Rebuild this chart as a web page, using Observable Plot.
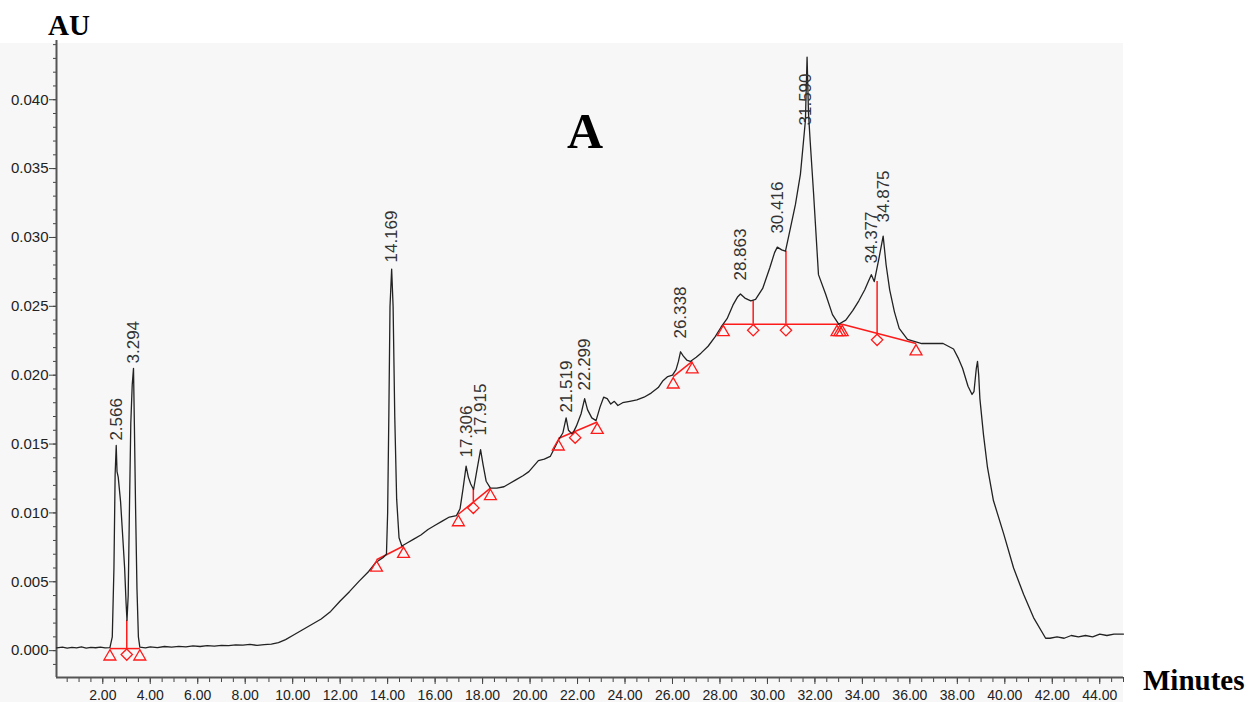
<!DOCTYPE html>
<html><head><meta charset="utf-8">
<script src="https://cdn.jsdelivr.net/npm/d3@7"></script>
<script src="https://cdn.jsdelivr.net/npm/@observablehq/plot@0.6"></script>
<style>
html,body{margin:0;padding:0;background:#fff;overflow:hidden;}
#chart{position:relative;width:1250px;height:702px;}
</style></head><body><div id="chart"></div>
<script>
// Chromatogram trace (minutes, AU)
const traceTime = [0.06,0.3,0.5,0.7,0.9,1.1,1.3,1.5,1.7,1.9,2.1,2.3,2.40,2.47,2.52,2.566,2.60,2.65,2.75,2.85,2.92,2.98,3.02,3.07,3.12,3.18,3.24,3.294,3.33,3.38,3.44,3.50,3.56,3.8,4.0,4.3,4.6,4.9,5.2,5.5,5.8,6.1,6.4,6.7,7.0,7.3,7.6,7.9,8.2,8.5,8.8,9.1,9.4,9.7,10.0,10.4,10.8,11.2,11.6,12.0,12.4,12.8,13.2,13.5,13.8,13.95,14.0,14.05,14.1,14.169,14.23,14.3,14.38,14.48,14.6,14.8,15.1,15.4,15.7,16.0,16.3,16.6,16.9,17.05,17.18,17.306,17.40,17.50,17.62,17.75,17.915,18.02,18.15,18.33,18.6,18.9,19.1,19.4,19.7,19.95,20.15,20.35,20.6,20.85,21.0,21.2,21.38,21.519,21.62,21.78,21.95,22.15,22.299,22.42,22.6,22.78,22.95,23.1,23.25,23.4,23.55,23.7,23.9,24.2,24.5,24.8,25.1,25.4,25.6,25.8,26.0,26.15,26.25,26.338,26.45,26.6,26.75,27.0,27.2,27.5,27.8,28.05,28.3,28.55,28.75,28.863,29.05,29.3,29.5,29.8,30.1,30.3,30.416,30.6,30.76,30.97,31.18,31.39,31.52,31.60,31.67,31.73,31.80,31.94,32.15,32.45,32.74,33.0,33.3,33.6,33.85,34.1,34.25,34.377,34.5,34.7,34.875,35.0,35.15,35.35,35.55,35.9,36.5,37.4,37.84,38.05,38.22,38.45,38.62,38.70,38.80,38.85,38.90,38.95,39.1,39.27,39.52,39.95,40.37,40.79,41.21,41.72,41.9,42.2,42.5,42.8,43.1,43.4,43.7,44.0,44.3,44.6,45.0];
const traceAu = [0.00020,0.00025,0.00018,0.00024,0.00020,0.00027,0.00019,0.00024,0.00021,0.00026,0.00020,0.00022,0.0010,0.0060,0.0128,0.0149,0.0130,0.0126,0.0108,0.0080,0.0060,0.0035,0.0022,0.0040,0.0100,0.0165,0.0193,0.0205,0.0165,0.0105,0.0045,0.0010,0.00025,0.00020,0.00028,0.00022,0.00030,0.00026,0.00031,0.00028,0.00034,0.00030,0.00036,0.00033,0.00038,0.00036,0.00042,0.00040,0.00045,0.00038,0.00044,0.00048,0.00058,0.00080,0.00110,0.00150,0.00190,0.00230,0.00285,0.00360,0.00430,0.00505,0.00575,0.00640,0.00675,0.00700,0.0100,0.0170,0.0250,0.0277,0.0250,0.0170,0.0110,0.0082,0.0076,0.0078,0.0081,0.0084,0.0088,0.0091,0.0094,0.0097,0.0098,0.0103,0.0118,0.0134,0.0126,0.0121,0.0117,0.0130,0.0146,0.0135,0.0123,0.0118,0.0118,0.0119,0.0121,0.0124,0.0127,0.0130,0.0134,0.0138,0.0139,0.0141,0.0146,0.0153,0.0158,0.0169,0.0160,0.0157,0.0163,0.0172,0.0183,0.0175,0.0169,0.0167,0.0177,0.0184,0.0183,0.0179,0.0181,0.0178,0.0180,0.0181,0.0182,0.0184,0.0187,0.0191,0.0196,0.0199,0.0200,0.0204,0.0210,0.0217,0.0214,0.0211,0.0210,0.0213,0.0216,0.0221,0.0228,0.0235,0.0241,0.0251,0.0257,0.0259,0.0256,0.0254,0.0255,0.0263,0.0278,0.0289,0.0293,0.0291,0.0290,0.0307,0.0324,0.0346,0.0370,0.0385,0.0431,0.0390,0.0370,0.0333,0.0273,0.0259,0.0244,0.0237,0.0240,0.0247,0.0254,0.0262,0.0268,0.0273,0.0268,0.0285,0.0301,0.0280,0.0262,0.0246,0.0234,0.0226,0.0223,0.0223,0.0219,0.0212,0.0205,0.0192,0.0186,0.0188,0.0205,0.0210,0.0200,0.0183,0.0157,0.0133,0.0109,0.0085,0.0060,0.0041,0.0024,0.0009,0.0009,0.0010,0.0009,0.0011,0.0010,0.0011,0.0010,0.0012,0.0011,0.0012,0.0012];

// Peak labels (retention time, label anchor AU)
const peakTimes = [2.566,3.294,14.169,17.306,17.915,21.519,22.299,26.338,28.863,30.416,31.590,34.377,34.875];
const peakLabels = ["2.566","3.294","14.169","17.306","17.915","21.519","22.299","26.338","28.863","30.416","31.590","34.377","34.875"];
const peakLabelAu = [0.01525,0.02085,0.02818,0.01402,0.01562,0.01729,0.01889,0.02266,0.02687,0.03028,0.03813,0.02811,0.03109];

// Integration baselines
const baseStartTime = [2.30,13.53,16.98,21.19,26.03,28.14,33.15];
const baseStartAu   = [0.00015,0.0066,0.0099,0.0154,0.0199,0.0237,0.0237];
const baseEndTime   = [3.56,14.67,18.33,22.83,26.83,33.15,36.26];
const baseEndAu     = [0.00015,0.0076,0.0118,0.0166,0.0210,0.0237,0.0223];

// Peak start/end markers (triangles) and valley markers (diamonds)
const triangleTime = [2.30,3.56,13.53,14.67,16.98,18.33,21.19,22.83,26.03,26.83,28.14,32.93,33.05,33.15,36.26];
const triangleAu   = [0.00015,0.00015,0.0066,0.0076,0.0099,0.0118,0.0154,0.0166,0.0199,0.0210,0.0237,0.0237,0.0237,0.0237,0.0223];
const diamondTime = [3.01,17.61,21.90,29.40,30.78,34.62];
const diamondAu   = [0.00015,0.0108,0.0159,0.0237,0.0237,0.0230];

// Drop lines
const dropTime   = [3.01,17.61,29.40,30.78,34.62];
const dropFromAu = [0.00015,0.0108,0.0237,0.0237,0.0230];
const dropToAu   = [0.0022,0.0117,0.0254,0.0290,0.0268];

// Ticks
const xMajorTicks = [2,4,6,8,10,12,14,16,18,20,22,24,26,28,30,32,34,36,38,40,42,44];
const yMajorTicks = [0,0.005,0.010,0.015,0.020,0.025,0.030,0.035,0.040];
const xMinorTicks = d3.range(1, 91).map(i => i / 2);
const yMinorTicks = d3.range(-1, 45).map(i => i / 1000);

const trace = traceTime.map((t, i) => ({t, au: traceAu[i]}));
const peaks = peakTimes.map((t, i) => ({t, au: peakLabelAu[i], label: peakLabels[i]}));
const bases = baseStartTime.map((t, i) => ({t1: t, a1: baseStartAu[i], t2: baseEndTime[i], a2: baseEndAu[i]}));
const tris = triangleTime.map((t, i) => ({t, au: triangleAu[i]}));
const dias = diamondTime.map((t, i) => ({t, au: diamondAu[i]}));
const drops = dropTime.map((t, i) => ({t, a1: dropFromAu[i], a2: dropToAu[i]}));

const red = "#ff1a1a";
const plot = Plot.plot({
  width: 1250, height: 702,
  marginLeft: 56, marginRight: 127, marginTop: 40, marginBottom: 25,
  style: {background: "transparent", fontFamily: "'Liberation Sans', Arial, sans-serif", fontSize: "14px", color: "#222"},
  x: {domain: [0.05, 45], label: null},
  y: {domain: [-0.00195, 0.0443], label: null},
  marks: [
    Plot.axisX({ticks: xMinorTicks, tickSize: 5, tickFormat: () => "", label: null, stroke: "#444"}),
    Plot.axisX({ticks: xMajorTicks, tickSize: 7, tickPadding: 6, tickFormat: d => d.toFixed(2), label: null, stroke: "#444", fontSize: 14}),
    Plot.axisY({ticks: yMinorTicks, tickSize: 3, tickFormat: () => "", label: null, stroke: "#444"}),
    Plot.axisY({ticks: yMajorTicks, tickSize: 7, tickPadding: 1, tickFormat: d => d.toFixed(3), label: null, stroke: "#444", fontSize: 15}),
    Plot.ruleX([0.05], {stroke: "#555", strokeWidth: 2}),
    Plot.ruleY([-0.00195], {stroke: "#555", strokeWidth: 2}),
    Plot.link(bases, {x1: "t1", y1: "a1", x2: "t2", y2: "a2", stroke: red, strokeWidth: 1.5}),
    Plot.ruleX(drops, {x: "t", y1: "a1", y2: "a2", stroke: red, strokeWidth: 1.5}),
    Plot.line(trace, {x: "t", y: "au", stroke: "#222", strokeWidth: 1.3}),
    Plot.dot(tris, {x: "t", y: "au", symbol: "triangle2", r: 5.7, stroke: red, fill: "none", strokeWidth: 1.3, dy: 8}),
    Plot.dot(dias, {x: "t", y: "au", symbol: "diamond2", r: 5.1, stroke: red, fill: "none", strokeWidth: 1.3, dy: 6}),
    Plot.text(peaks, {x: "t", y: "au", text: "label", rotate: -90, textAnchor: "start", lineAnchor: "middle", fontSize: 17, fill: "#333"})
  ]
});

const svg = d3.select(plot);
svg.insert("rect", ":first-child").attr("x", 0).attr("y", 43).attr("width", 1123).attr("height", 659).attr("fill", "#f7f7f7");
const serif = "'Liberation Serif', 'Times New Roman', serif";
svg.append("text").text("A").attr("x", 585).attr("y", 148).attr("text-anchor", "middle")
  .attr("font-family", serif).attr("font-weight", "bold").attr("font-size", 50).attr("fill", "#000");
svg.append("text").text("AU").attr("x", 48).attr("y", 35).attr("text-anchor", "start")
  .attr("font-family", serif).attr("font-weight", "bold").attr("font-size", 29).attr("fill", "#000");
svg.append("text").text("Minutes").attr("x", 1143).attr("y", 690).attr("text-anchor", "start")
  .attr("font-family", serif).attr("font-weight", "bold").attr("font-size", 29).attr("fill", "#000");

document.getElementById("chart").appendChild(plot);
</script></body></html>
